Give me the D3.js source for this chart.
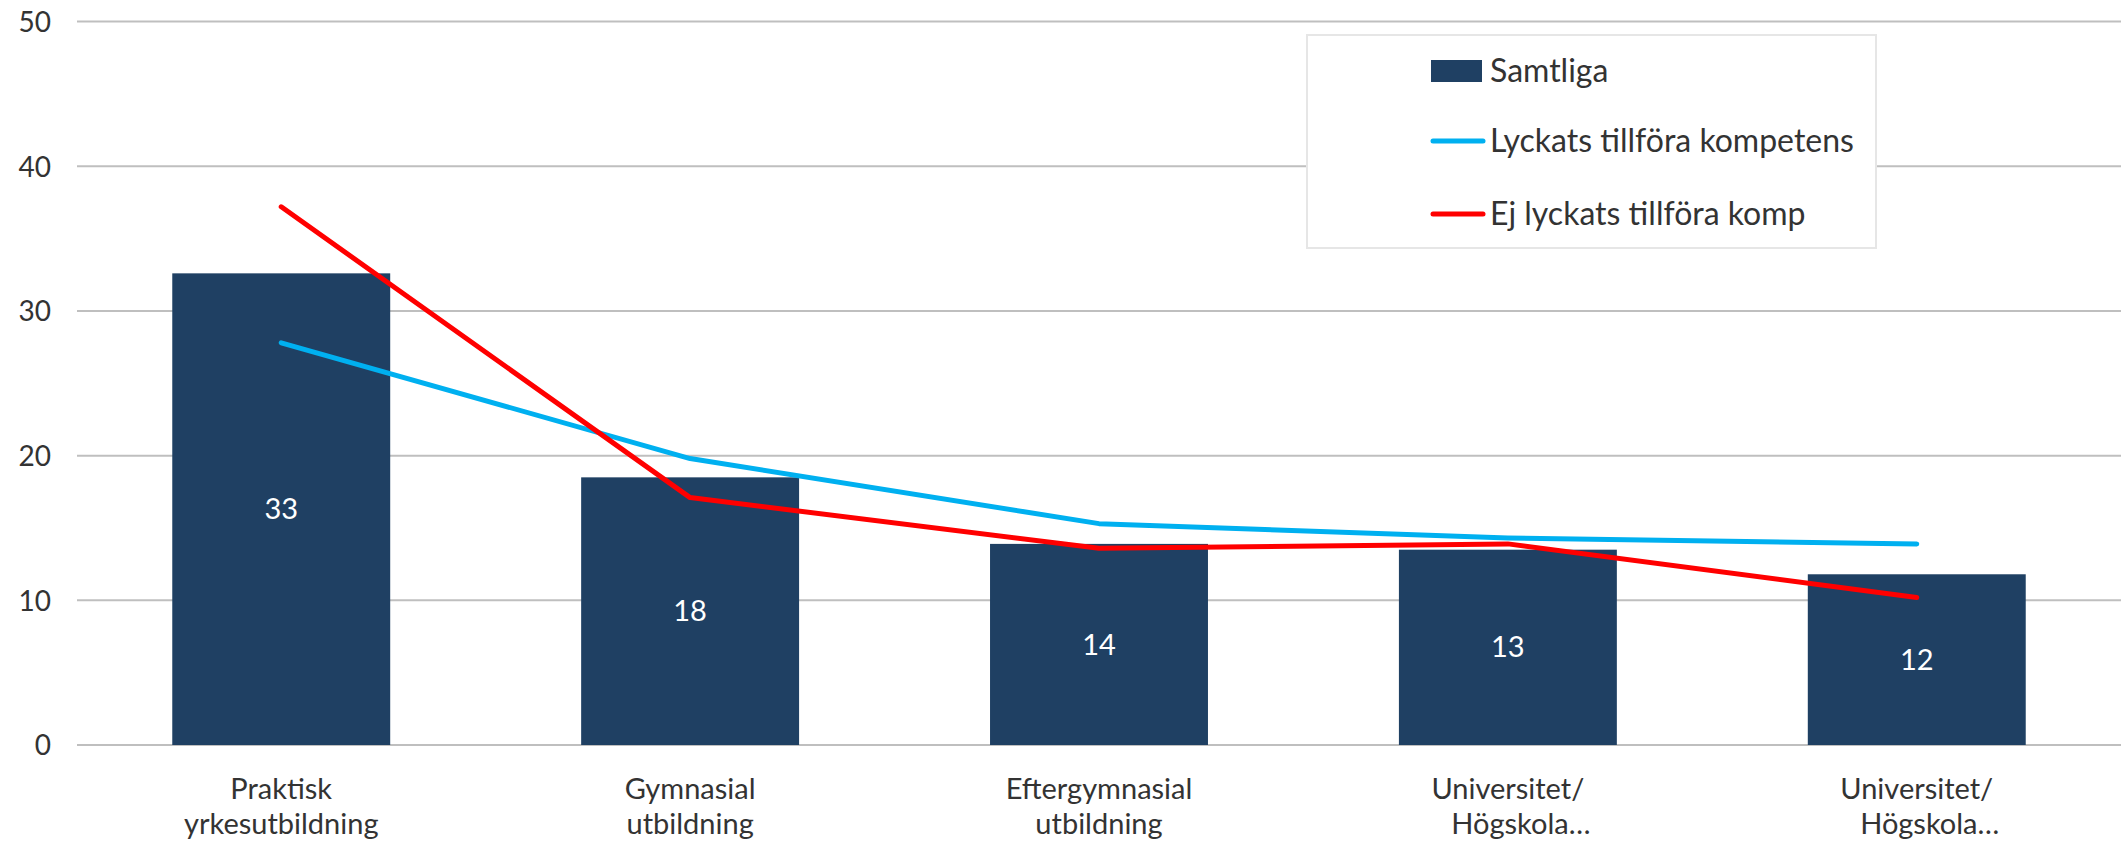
<!DOCTYPE html>
<html><head><meta charset="utf-8">
<script src="https://cdn.jsdelivr.net/npm/d3@7/dist/d3.min.js"></script>
<style>html,body{margin:0;padding:0;background:#fff;}svg{display:block;}</style>
</head><body>
<svg id="chart" width="2121" height="842"></svg>
<script>
const categories = [["Praktisk","yrkesutbildning"],["Gymnasial","utbildning"],["Eftergymnasial","utbildning"],["Universitet/","Högskola…"],["Universitet/","Högskola…"]];
const samtliga = [32.6, 18.5, 13.9, 13.5, 11.8];
const samtligaLabels = ["33","18","14","13","12"];
const lyckats = [27.8, 19.8, 15.3, 14.3, 13.9];
const ejLyckats = [37.2, 17.1, 13.6, 13.9, 10.2];
const yTicks = [0,10,20,30,40,50];
const seriesNames = ["Samtliga","Lyckats tillföra kompetens","Ej lyckats tillföra komp"];

const FONT = "Lato, 'Open Sans', sans-serif";
const svg = d3.select("#chart");
const m = {left:77, right:0, top:21.6, bottom:97};
const W = 2121, H = 842;
const x = d3.scaleBand().domain(d3.range(categories.length)).range([m.left, W-m.right]).paddingInner(0.467).paddingOuter(0.233);
const y = d3.scaleLinear().domain([0,50]).range([H-m.bottom, m.top]);

// gridlines
svg.append("g").selectAll("line").data(yTicks).join("line")
  .attr("x1", m.left).attr("x2", W).attr("y1", d=>y(d)).attr("y2", d=>y(d))
  .attr("stroke", "#bfbfbf").attr("stroke-width", 2);

// y axis labels
const yAxis = d3.axisLeft(y).tickValues(yTicks).tickSize(0).tickPadding(0);
const ya = svg.append("g").attr("transform", `translate(51,0)`).call(yAxis);
ya.select(".domain").remove();
ya.selectAll("text").attr("font-family", FONT).attr("font-size", 28).attr("fill", "#333").attr("text-anchor","end").attr("dy","0.35em");

// bars
svg.append("g").selectAll("rect").data(samtliga).join("rect")
  .attr("x", (d,i)=>x(i)).attr("width", x.bandwidth())
  .attr("y", d=>y(d)).attr("height", d=>y(0)-y(d))
  .attr("fill", "#1f4063");

// bar labels
svg.append("g").selectAll("text").data(samtliga).join("text")
  .attr("x", (d,i)=>x(i)+x.bandwidth()/2).attr("y", d=>(y(d)+y(0))/2)
  .attr("text-anchor","middle").attr("dy","0.35em")
  .attr("font-family", FONT).attr("font-size", 29).attr("fill", "#fff")
  .text((d,i)=>samtligaLabels[i]);

// lines
const line = d3.line().x((d,i)=>x(i)+x.bandwidth()/2).y(d=>y(d));
svg.append("path").datum(lyckats).attr("d", line).attr("fill","none").attr("stroke","#00b0f0").attr("stroke-width",5).attr("stroke-linecap","round").attr("stroke-linejoin","round");
svg.append("path").datum(ejLyckats).attr("d", line).attr("fill","none").attr("stroke","#ff0000").attr("stroke-width",5).attr("stroke-linecap","round").attr("stroke-linejoin","round");

// x labels
const xl = svg.append("g").selectAll("text").data(categories).join("text")
  .attr("x", (d,i)=>x(i)+x.bandwidth()/2).attr("y", 789)
  .attr("text-anchor","middle").attr("font-family", FONT).attr("font-size", 29).attr("fill","#333");
xl.each(function(d){
  const t = d3.select(this);
  const cx = +t.attr("x");
  d.forEach((s,k)=>t.append("tspan")
    .attr("x", (k===1 && s.startsWith("Hög")) ? cx+13 : cx)
    .attr("dy", k===0?"0.35em":"1.2em").text(s));
});

// legend
const lg = svg.append("g");
lg.append("rect").attr("x",1307).attr("y",35).attr("width",569).attr("height",213).attr("fill","#fff").attr("stroke","#e6e6e6").attr("stroke-width",2);
const rowsY = [71, 141, 214];
lg.append("rect").attr("x",1431).attr("y",rowsY[0]-11).attr("width",51).attr("height",22).attr("fill","#1f4063");
lg.append("line").attr("x1",1433).attr("x2",1483).attr("y1",rowsY[1]).attr("y2",rowsY[1]).attr("stroke","#00b0f0").attr("stroke-width",5).attr("stroke-linecap","round");
lg.append("line").attr("x1",1433).attr("x2",1483).attr("y1",rowsY[2]).attr("y2",rowsY[2]).attr("stroke","#ff0000").attr("stroke-width",5).attr("stroke-linecap","round");
lg.selectAll("text.lt").data(seriesNames).join("text").attr("class","lt")
  .attr("x",1490).attr("y",(d,i)=>rowsY[i]).attr("dy","0.35em")
  .attr("font-family", FONT).attr("font-size", 32).attr("fill","#333").text(d=>d);
</script>
</body></html>
